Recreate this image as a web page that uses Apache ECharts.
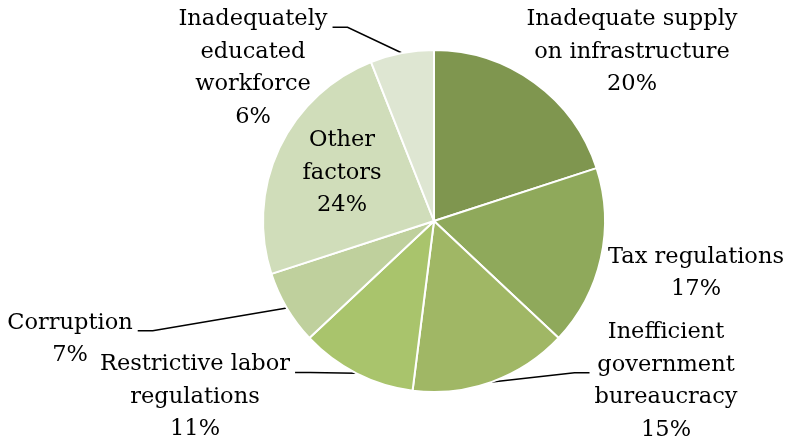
<!DOCTYPE html>
<html>
<head>
<meta charset="utf-8">
<script src="https://cdn.jsdelivr.net/npm/echarts@6/dist/echarts.min.js"></script>
<style>
  html, body { margin: 0; padding: 0; background: #fff; }
  #chart { width: 786px; height: 444px; }
</style>
</head>
<body>
<div id="chart"></div>
<script>
// Obstacles to doing business, share of responses (%)
const categories = [
  'Inadequate supply\non infrastructure',
  'Tax regulations',
  'Inefficient\ngovernment\nbureaucracy',
  'Restrictive labor\nregulations',
  'Corruption',
  'Other\nfactors',
  'Inadequately\neducated\nworkforce'
];
const shares = [20, 17, 15, 11, 7, 24, 6];
const sliceColors = ['#7f964f', '#8fa95b', '#a0b765', '#a9c46c', '#bfd09d', '#d0ddba', '#dee6d2'];

// Where each label block is centred, and how its leader line attaches
// (side: which edge of the text the line meets; row: which text line it meets)
const labelPlacement = [
  { x: 632, y: 52 },
  { x: 696, y: 273 },
  { x: 666, y: 381, side: 'left', row: 1 },
  { x: 195, y: 397, side: 'right', row: 0 },
  { x: 70, y: 339, side: 'right', row: 0 },
  { x: 342, y: 173, inside: true },
  { x: 253, y: 68, side: 'right', row: 0 }
];

const FONT = 'DejaVu Serif';
const FONT_SIZE = 22.5;
const LINE_H = 32.5;

const chart = echarts.init(document.getElementById('chart'), null, { renderer: 'canvas' });

const data = categories.map((name, i) => ({
  name,
  value: shares[i],
  itemStyle: { color: sliceColors[i] },
  labelLine: { show: !!labelPlacement[i].side }
}));

chart.setOption({
  animation: false,
  series: [{
    type: 'pie',
    center: [434, 221],
    radius: 171,
    startAngle: 90,
    clockwise: true,
    avoidLabelOverlap: false,
    data,
    itemStyle: { borderColor: '#ffffff', borderWidth: 2 },
    label: {
      show: true,
      position: 'outside',
      formatter: p => p.name + '\n' + p.value + '%',
      fontFamily: FONT,
      fontSize: FONT_SIZE,
      lineHeight: LINE_H,
      color: '#000',
      align: 'center'
    },
    labelLine: {
      show: true,
      length: 10,
      length2: 10,
      lineStyle: { color: '#000', width: 1.5 }
    },
    labelLayout: params => {
      const spec = labelPlacement[params.dataIndex];
      const out = { x: spec.x, y: spec.y, align: 'center', verticalAlign: 'middle' };
      if (spec.side && params.labelLinePoints) {
        const start = params.labelLinePoints[0];
        const w = params.labelRect.width;
        const h = params.labelRect.height;
        const dir = spec.side === 'right' ? 1 : -1;
        const ex = spec.x + dir * (w / 2 + 5);
        const ey = spec.y - h / 2 + LINE_H * (spec.row + 0.5) + 8;
        out.labelLinePoints = [
          [start[0], start[1]],
          [ex + dir * 15, ey],
          [ex, ey]
        ];
      }
      return out;
    }
  }]
});
</script>
</body>
</html>
